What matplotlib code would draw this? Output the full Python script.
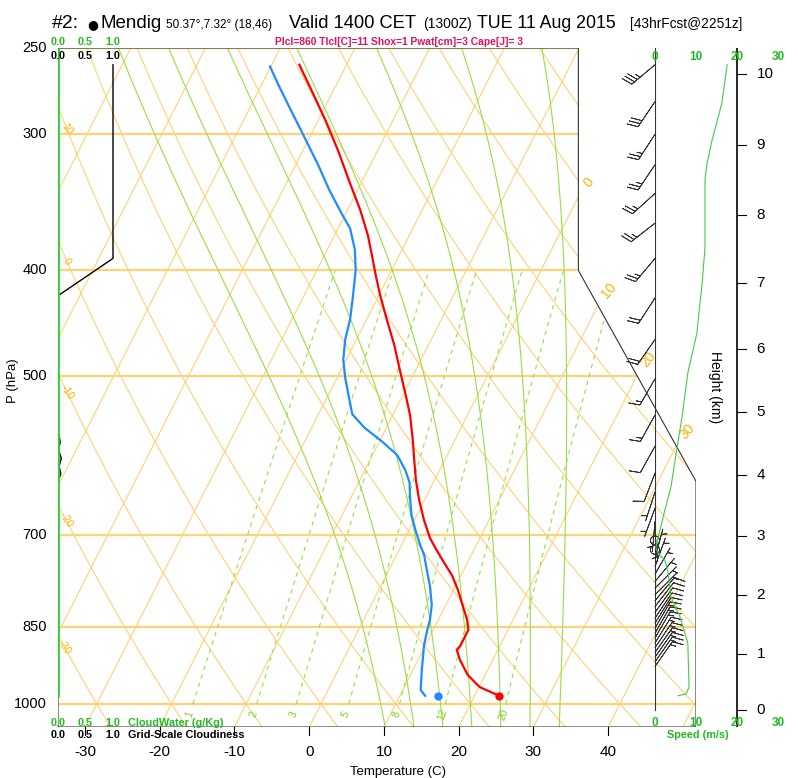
import numpy as np
import matplotlib
matplotlib.use('Agg')
import matplotlib.pyplot as plt
from matplotlib.patches import Polygon

plt.rcParams['font.family'] = ['Liberation Sans', 'DejaVu Sans']

# ---- sounding (p in hPa, T in C) ----
temp_p = [983, 965, 941, 911, 892, 885, 868, 855, 838, 811, 786, 762, 741, 719, 704, 678, 650, 623,
          597, 573, 543, 521, 494, 468, 442, 421, 404, 387, 371, 352, 332, 311, 291, 274, 259]
temp_c = [23.3, 20.1, 17.7, 15.6, 14.5, 14.7, 14.7, 14.7, 13.9, 12.2, 10.6, 8.8, 6.8, 4.7, 3.3, 1.3,
          -0.7, -2.5, -4.1, -5.6, -7.7, -9.6, -12.1, -14.6, -17.5, -19.9, -21.8, -23.7, -25.6,
          -28.3, -31.6, -35.2, -39.1, -42.8, -46.3]
dewp_p = [983, 971, 931, 883, 855, 838, 811, 778, 754, 730, 715, 692, 671, 650, 626, 610, 591, 574,
          558, 542, 524, 502, 483, 463, 444, 426, 400, 383, 366, 356, 338, 320, 300, 284, 270, 260]
dewp_c = [13.4, 12.4, 11.2, 9.8, 9.2, 8.9, 8.1, 6.5, 5.1, 3.7, 2.5, 0.8, -0.7, -1.9, -3.2, -4.6,
          -6.7, -9.7, -12.9, -15.5, -17.0, -18.9, -20.4, -21.5, -22.2, -23.2, -24.8, -26.3, -28.4,
          -30.3, -33.7, -37.0, -41.1, -44.6, -47.8, -50.1]
sfc_p = 984
sfc_t = 23.3
sfc_td = 15.1

# wind speed profile (m/s)
spd_p = [259, 281, 304, 319, 330, 381, 411, 457, 497, 545, 581, 632, 664, 718, 727, 738, 758, 798,
         832, 879, 965, 979, 983]
spd_ms = [17.6, 16.3, 13.9, 12.7, 12.2, 12.2, 11.5, 10.2, 8.0, 6.6, 5.4, 3.9, 2.4, 0.2, 0.7, 2.4,
          3.2, 3.9, 6.1, 8.0, 8.3, 7.6, 5.6]

# wind barbs: pressure, direction (deg from), speed (m/s)
barb_p = [259, 280, 300, 320, 340, 362, 390, 424, 463, 503, 543, 580, 614, 639, 661, 680, 695, 708,
          722, 735, 748, 760, 772, 783, 794, 804, 814, 824, 834, 843, 852, 861, 870, 879, 888, 897,
          906, 915, 924]
barb_dir = [230, 214, 213, 214, 228, 232, 220, 213, 215, 210, 209, 209, 201, 198, 200, 185, 175, 350,
            0, 15, 20, 30, 40, 45, 45, 40, 38, 36, 34, 32, 30, 30, 30, 32, 34, 35, 35, 35, 35]
barb_spd = [17.6, 16.3, 14.0, 12.7, 12.2, 12.2, 12.0, 11.0, 9.8, 8.0, 6.6, 5.4, 4.3, 3.7, 2.4, 1.8,
            1.5, 1.0, 0.3, 1.5, 2.8, 3.2, 3.4, 3.6, 3.8, 4.0, 4.4, 5.0, 5.5, 6.0, 6.5, 7.0, 7.4, 7.8,
            8.0, 8.1, 8.2, 8.3, 8.3]

# grid-scale cloudiness
cld_p = [259, 390, 422, 560, 575, 585, 595, 605, 615, 625, 640]
cld_frac = [1.0, 1.0, 0.0, 0.0, 0.04, 0.01, 0.06, 0.02, 0.05, 0.0, 0.0]

# axes furniture
p_ticks = [250, 300, 400, 500, 700, 850, 1000]
t_ticks = [-30, -20, -10, 0, 10, 20, 30, 40]
hgt_km = [0, 1, 2, 3, 4, 5, 6, 7, 8, 9, 10]
hgt_p = [1013, 899, 795, 701, 616, 540, 472, 411, 356, 307, 264]
isotherms = np.arange(-80, 60, 10)
theta_lines = np.arange(-30, 130, 10)
theta_w_lines = [8, 12, 16, 20, 24, 28, 32]
mix_ratios = [1, 2, 3, 5, 8, 12, 20]
theta_lab = [-30, -20, -10, 0, 10]
theta_lab_p = [888, 678, 518, 393, 297]
iso_lab = [0, 10, 20, 30]
iso_lab_p = [332, 417, 483, 562]

ORANGE = '#ffcc66'
ORANGE_TXT = '#ffb000'
LGREEN = '#99dd44'
GREEN_TXT = '#22bb22'


def ny(p):
    # NCL skew-T vertical coordinate
    return 132.182 - 44.061 * np.log10(np.asarray(p, dtype=float))


def sx(t, p):
    return 0.54 * np.asarray(t, dtype=float) + 0.90692 * ny(p)


def sat_mr(t, p):
    es = 6.112 * np.exp(17.67 * t / (t + 243.5))
    return 0.622 * es / (p - es)


def lapse(tk, p):
    rs = sat_mr(tk - 273.15, p)
    return (287.04 * tk + 2.501e6 * rs) / (1005.7 + 2.501e6 ** 2 * rs * 0.622 / (287.04 * tk ** 2)) / p


def moist_adiabat(tw, plevs):
    t = tw + 273.15
    out = [t]
    for p0, p1 in zip(plevs[:-1], plevs[1:]):
        dp = p1 - p0
        k1 = lapse(t, p0)
        k2 = lapse(t + 0.5 * dp * k1, p0 + 0.5 * dp)
        t = t + dp * k2
        out.append(t)
    return np.array(out) - 273.15


def mix_td(w, p):
    e = w * p / (622.0 + w)
    a = np.log(e / 6.112)
    return 243.5 * a / (17.67 - a)


W, H = 798, 778


def fr(l, t, w, h):
    return [l / W, 1 - (t + h) / H, w / W, h / H]


fig = plt.figure(figsize=(W / 100, H / 100), dpi=100)
ax = fig.add_axes(fr(58, 48, 638, 679))
y_bot, y_top = ny(1050), ny(250)
ax.set_xlim(-19, 27.1)
ax.set_ylim(y_bot, y_top)
ax.set_axis_off()

outline = [(-19, y_bot), (27.1, y_bot), (27.1, 9.0), (18.6, 17.53), (18.6, y_top), (-19, y_top)]
clip = Polygon(outline, closed=True, transform=ax.transData)


def clipped(lines):
    for ln in lines:
        ln.set_clip_path(clip)


pp = np.linspace(1050, 250, 240)
# isotherms
for t in isotherms:
    clipped(ax.plot(sx([t, t], [1050, 250]), ny([1050, 250]), color=ORANGE, lw=0.7))
# dry adiabats
for th in theta_lines:
    tt = (th + 273.15) * (pp / 1000.0) ** 0.2857 - 273.15
    clipped(ax.plot(sx(tt, pp), ny(pp), color=ORANGE, lw=0.7))
# isobars
for p in p_ticks:
    clipped(ax.plot([-19, 27.1], [ny(p), ny(p)], color='#ffd27a', lw=1.6))
# moist adiabats
p_up = np.linspace(1000, 250, 200)
p_dn = np.linspace(1000, 1050, 12)
for tw in theta_w_lines:
    t_up = moist_adiabat(tw, p_up)
    t_dn = moist_adiabat(tw, p_dn)
    pm = np.concatenate([p_dn[::-1], p_up[1:]])
    tm = np.concatenate([t_dn[::-1], t_up[1:]])
    clipped(ax.plot(sx(tm, pm), ny(pm), color=LGREEN, lw=0.8))
# mixing ratio lines
pw = np.linspace(1000, 400, 60)
for w in mix_ratios:
    clipped(ax.plot(sx(mix_td(w, pw), pw), ny(pw), color=LGREEN, lw=0.8, ls=(0, (4, 4))))
    ax.text(sx(mix_td(w, 1022), 1022), ny(1022), str(w), color='#88cc22', fontsize=7.5,
            rotation=70, ha='center', va='center')

# labels of dry adiabats and isotherms
for th, p in zip(theta_lab, theta_lab_p):
    tt = (th + 273.15) * (p / 1000.0) ** 0.2857 - 273.15
    ax.text(sx(tt, p), ny(p), str(th), color=ORANGE_TXT, fontsize=7.5, rotation=-55,
            ha='center', va='center')
for t, p in zip(iso_lab, iso_lab_p):
    ax.text(sx(t, p) + 0.25, ny(p), str(t), color=ORANGE_TXT, fontsize=10, rotation=50,
            ha='center', va='center')

# outline
ox = [v[0] for v in outline] + [outline[0][0]]
oy = [v[1] for v in outline] + [outline[0][1]]
ax.plot(ox, oy, color='#333333', lw=0.8)

# cloudiness and cloud water axis
ax.plot(-19 + 3.974 * np.array(cld_frac), ny(cld_p), color='black', lw=1.0)
ax.plot([-19, -19], [ny(985), y_top], color='#33cc33', lw=2.0, solid_capstyle='butt')

# temperature / dewpoint
ax.plot(sx(temp_c, temp_p), ny(temp_p), color='#ff0000', lw=1.6)
ax.plot(sx(dewp_c, dewp_p), ny(dewp_p), color='#1e8cff', lw=1.6)
ax.plot(sx(sfc_t, sfc_p), ny(sfc_p), 'o', color='#ff0000', ms=5)
ax.plot(sx(sfc_td, sfc_p), ny(sfc_p), 'o', color='#1e8cff', ms=5)

# pressure labels
for p in p_ticks:
    ax.text(-19.8, ny(p), str(p), ha='right', va='center', fontsize=10.5)
ax.text(-0.07, 0.51, 'P (hPa)', transform=ax.transAxes, rotation=90, ha='center', va='center',
        fontsize=9.5)

# temperature ticks
for t in t_ticks:
    x = sx(t, 1050)
    ax.plot([x, x], [y_bot, y_bot - 0.33], color='black', lw=0.8, clip_on=False)
    ax.text(x, y_bot - 1.0, str(t), ha='center', va='center', fontsize=11)
ax.text(0.533, -0.066, 'Temperature (C)', transform=ax.transAxes, ha='center', va='center',
        fontsize=9.5)

# cloud scale labels
for c in [0.0, 0.5, 1.0]:
    xc = -19 + 3.974 * c
    ax.text(xc, 1.009, f'{c:.1f}', transform=ax.get_xaxis_transform(), color=GREEN_TXT,
            fontsize=7.8, ha='center', va='center', fontweight='bold')
    ax.text(xc, 0.988, f'{c:.1f}', transform=ax.get_xaxis_transform(), color='black',
            fontsize=7.8, ha='center', va='center', fontweight='bold')
    ax.text(xc, 0.006, f'{c:.1f}', transform=ax.get_xaxis_transform(), color=GREEN_TXT,
            fontsize=7.8, ha='center', va='center', fontweight='bold')
    ax.text(xc, -0.012, f'{c:.1f}', transform=ax.get_xaxis_transform(), color='black',
            fontsize=7.8, ha='center', va='center', fontweight='bold')
ax.text(0.11, 0.006, 'CloudWater (g/Kg)', transform=ax.transAxes, color=GREEN_TXT, fontsize=7.8,
        ha='left', va='center', fontweight='bold')
ax.text(0.11, -0.012, 'Grid-Scale Cloudiness', transform=ax.transAxes, color='black', fontsize=7.8,
        ha='left', va='center', fontweight='bold')

# ---- wind / height panel ----
wax = fig.add_axes(fr(655, 48, 123, 679))
wax.set_xlim(0, 30)
wax.set_ylim(y_bot, y_top)
wax.set_axis_off()
wax.patch.set_alpha(0)

wax.plot([0, 0], [ny(1013), y_top], color='#333333', lw=0.8)
wax.plot(spd_ms, ny(spd_p), color='#44cc44', lw=0.8)

kt = np.array(barb_spd) * 1.944
rad = np.deg2rad(barb_dir)
u = -kt * np.sin(rad)
v = -kt * np.cos(rad)
wax.barbs(np.zeros(len(barb_p)), ny(barb_p), u, v, length=6.6, linewidth=0.6, color='#333333',
          sizes=dict(spacing=0.12, height=0.35, emptybarb=0.15), clip_on=False)

# height axis
wax.plot([20, 20], [y_bot, y_top], color='black', lw=1.2)
for h, p in zip(hgt_km, hgt_p):
    wax.plot([20, 22.2], [ny(p), ny(p)], color='black', lw=0.8)
    wax.text(24.8, ny(p), str(h), ha='left', va='center', fontsize=11)
wax.text(14.6, 0.5, 'Height (km)', transform=wax.get_xaxis_transform(), rotation=-90,
         ha='center', va='center', fontsize=10)

for s in [0, 10, 20, 30]:
    wax.text(s, 0.987, str(s), transform=wax.get_xaxis_transform(), color=GREEN_TXT, fontsize=8.5,
             ha='center', va='center', fontweight='bold')
    wax.text(s, 0.006, str(s), transform=wax.get_xaxis_transform(), color=GREEN_TXT, fontsize=8.5,
             ha='center', va='center', fontweight='bold')
wax.text(10.4, -0.012, 'Speed (m/s)', transform=wax.get_xaxis_transform(), color=GREEN_TXT,
         fontsize=7.8, ha='center', va='center', fontweight='bold')

# ---- title ----
yb = 1 - 28 / H
fig.text(52 / W, yb, '#2:', fontsize=14, va='baseline')
fig.text(87 / W, yb, '\u25cf', fontsize=9, va='baseline', family=['DejaVu Sans'])
fig.text(101 / W, yb, 'Mendig', fontsize=13.5, va='baseline')
fig.text(166 / W, yb, '50.37\u00b0,7.32\u00b0 (18,46)', fontsize=8.5, va='baseline')
fig.text(289 / W, yb, 'Valid 1400 CET', fontsize=13.2, va='baseline')
fig.text(423 / W, yb, '(1300Z)', fontsize=10, va='baseline')
fig.text(477 / W, yb, 'TUE 11 Aug 2015', fontsize=12.8, va='baseline')
fig.text(630 / W, yb, '[43hrFcst@2251z]', fontsize=9.9, va='baseline')
fig.text(399 / W, 1 - 42 / H, 'Plcl=860 Tlcl[C]=11 Shox=1 Pwat[cm]=3 Cape[J]= 3', color='#e0115f',
         fontsize=7.4, fontweight='bold', ha='center', va='center')

fig.savefig('out.png', dpi=100)
